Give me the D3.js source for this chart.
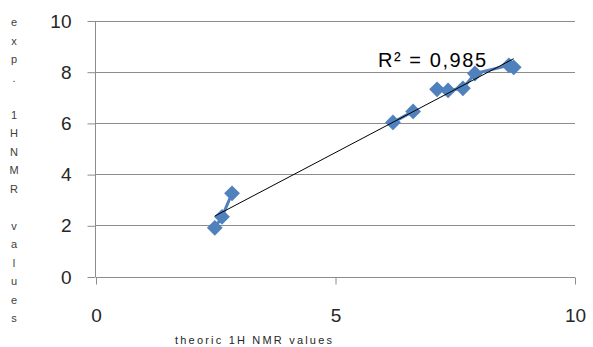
<!DOCTYPE html>
<html>
<head>
<meta charset="utf-8">
<script src="https://cdn.jsdelivr.net/npm/d3@7"></script>
<style>
  body { margin: 0; background: #fff; }
</style>
</head>
<body>
<div id="chart"></div>
<script>
// values (null = gap in the series)
var theoric = [2.48, 2.63, 2.84, null, 6.2, 6.62, null, 7.12, 7.35, 7.66, 7.91, 8.62, 8.72];
var experimental = [1.9, 2.33, 3.25, null, 6.02, 6.45, null, 7.31, 7.27, 7.35, 7.93, 8.25, 8.17];
var xTicks = [0, 5, 10];
var yTicks = [0, 2, 4, 6, 8, 10];
var r2Label = "R² = 0,985";
var xTitle = "theoric  1H NMR values";
var yTitle = "exp. 1HNMR values";

var W = 593, H = 347;
var x = d3.scaleLinear().domain([0, 10]).range([96, 575]);
var y = d3.scaleLinear().domain([0, 10]).range([276.5, 20.5]);

var svg = d3.select("#chart").append("svg")
    .attr("width", W).attr("height", H);

var data = theoric.map(function(d, i) { return { x: d, y: experimental[i] }; });
var pts = data.filter(d => d.x != null);

// gridlines
svg.append("g").selectAll("line")
    .data(yTicks.filter(d => d > 0))
    .enter().append("line")
    .attr("x1", x(0)).attr("x2", x(10))
    .attr("y1", d => Math.round(y(d)) + 0.5).attr("y2", d => Math.round(y(d)) + 0.5)
    .style("stroke", "#8c8c8c").style("stroke-width", 1);

// axes
var yAxis = svg.append("g")
    .attr("class", "yAxis")
    .attr("transform", "translate(" + (x(0) - 0.5) + ",0.5)")
    .call(d3.axisLeft(y).tickValues(yTicks).tickSize(8).tickPadding(16).tickFormat(d3.format("d")));

var xAxis = svg.append("g")
    .attr("class", "xAxis")
    .attr("transform", "translate(0," + (Math.round(y(0)) + 0.5) + ")")
    .call(d3.axisBottom(x).tickValues(xTicks).tickSize(7).tickPadding(24).tickFormat(d3.format("d")));

svg.selectAll(".yAxis path, .xAxis path")
    .style("stroke", "#8c8c8c");
svg.selectAll(".yAxis .tick line, .xAxis .tick line")
    .style("stroke", "#8c8c8c");
svg.selectAll(".yAxis path").attr("d", "M0," + y(10) + "V" + y(0));
svg.selectAll(".xAxis path").attr("d", "M" + x(0) + ",0H" + x(10));

svg.selectAll(".yAxis text, .xAxis text")
    .style("font-family", "'Liberation Sans', sans-serif")
    .style("font-size", "19px")
    .style("fill", "#262626");

// series line
var line = d3.line()
    .defined(d => d.x != null)
    .x(d => x(d.x))
    .y(d => y(d.y));

svg.append("path")
    .datum(data)
    .attr("d", line)
    .style("fill", "none")
    .style("stroke", "#4f81bd")
    .style("stroke-width", 3);

// markers
svg.append("g").selectAll("path")
    .data(pts)
    .enter().append("path")
    .attr("d", d3.symbol().type(d3.symbolSquare).size(125))
    .attr("transform", d => "translate(" + x(d.x) + "," + y(d.y) + ") rotate(45)")
    .style("fill", "#4f81bd");

// linear trendline (least squares)
var mx = d3.mean(pts, d => d.x), my = d3.mean(pts, d => d.y);
var slope = d3.sum(pts, d => (d.x - mx) * (d.y - my)) / d3.sum(pts, d => (d.x - mx) * (d.x - mx));
var icpt = my - slope * mx;
var xr = d3.extent(pts, d => d.x);

svg.append("line")
    .attr("x1", x(xr[0])).attr("y1", y(icpt + slope * xr[0]))
    .attr("x2", x(xr[1])).attr("y2", y(icpt + slope * xr[1]))
    .style("stroke", "#000")
    .style("stroke-width", 1);

svg.append("text")
    .attr("x", 378).attr("y", 67)
    .attr("textLength", 108)
    .text(r2Label)
    .style("font-family", "'Liberation Sans', sans-serif")
    .style("font-size", "20px")
    .style("fill", "#000");

// axis titles
svg.append("text")
    .attr("x", 175).attr("y", 344)
    .attr("textLength", 157)
    .text(xTitle)
    .style("font-family", "'Liberation Sans', sans-serif")
    .style("font-size", "11px")
    .style("fill", "#262626");

svg.append("g").selectAll("text")
    .data(yTitle.split(""))
    .enter().append("text")
    .attr("x", 14)
    .attr("y", (d, i) => 26 + i * 18.5)
    .attr("text-anchor", "middle")
    .text(d => d)
    .style("font-family", "'Liberation Sans', sans-serif")
    .style("font-size", "11px")
    .style("fill", "#404040");
</script>
</body>
</html>
